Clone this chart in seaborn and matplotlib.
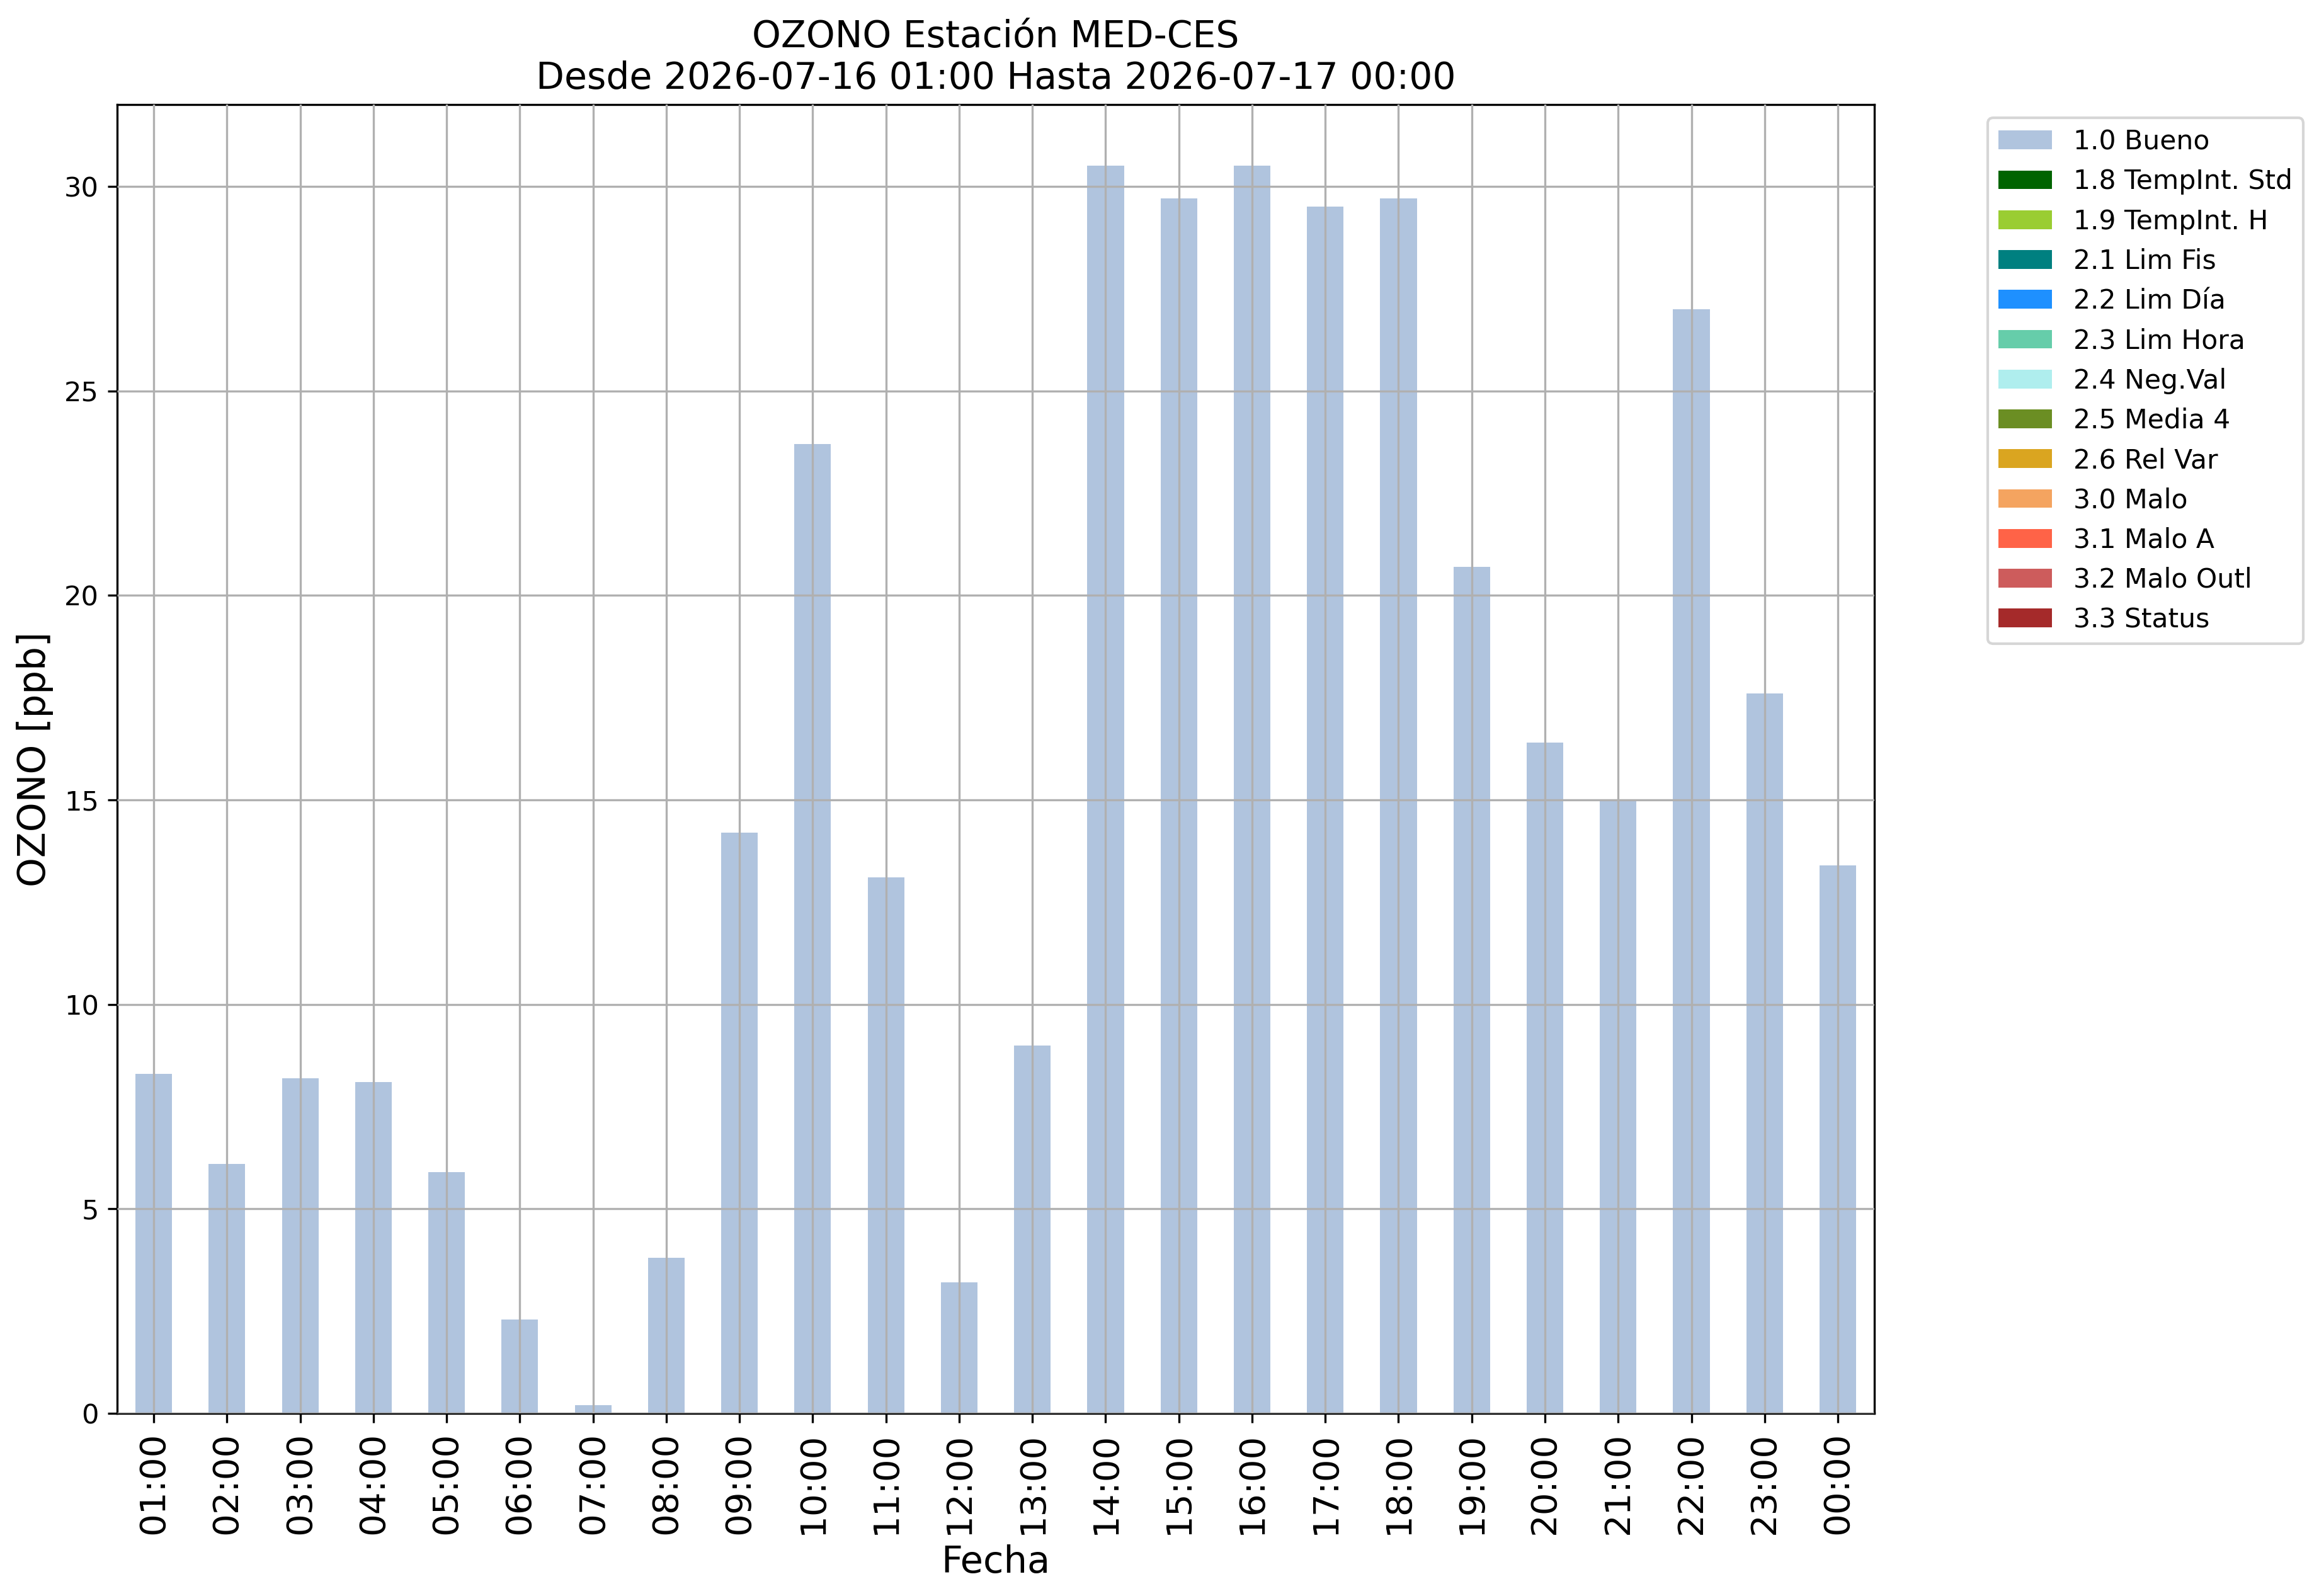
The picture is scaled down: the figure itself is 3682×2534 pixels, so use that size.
import numpy as np
import pandas as pd
import matplotlib
matplotlib.use("Agg")
import matplotlib.pyplot as plt
from matplotlib.patches import Patch
import seaborn as sns

# ---------- Data ----------
hours = ["01:00", "02:00", "03:00", "04:00", "05:00", "06:00", "07:00", "08:00",
         "09:00", "10:00", "11:00", "12:00", "13:00", "14:00", "15:00", "16:00",
         "17:00", "18:00", "19:00", "20:00", "21:00", "22:00", "23:00", "00:00"]
ozono_bueno = [8.3, 6.1, 8.2, 8.1, 5.9, 2.3, 0.2, 3.8,
               14.2, 23.7, 13.1, 3.2, 9.0, 30.5, 29.7, 30.5,
               29.5, 29.7, 20.7, 16.4, 15.0, 27.0, 17.6, 13.4]

flag_labels = ["1.0 Bueno", "1.8 TempInt. Std", "1.9 TempInt. H", "2.1 Lim Fis",
               "2.2 Lim Día", "2.3 Lim Hora", "2.4 Neg.Val", "2.5 Media 4",
               "2.6 Rel Var", "3.0 Malo", "3.1 Malo A", "3.2 Malo Outl", "3.3 Status"]
flag_colors = ["lightsteelblue", "darkgreen", "yellowgreen", "teal",
               "dodgerblue", "mediumaquamarine", "paleturquoise", "olivedrab",
               "goldenrod", "sandybrown", "tomato", "indianred", "brown"]

df = pd.DataFrame({"Fecha": hours, "OZONO": ozono_bueno})

# ---------- Plot ----------
plt.rcParams["font.family"] = ["DejaVu Sans"]
fig, ax = plt.subplots(figsize=(3682 / 300, 2534 / 300), dpi=300)
fig.subplots_adjust(left=0.0505, right=0.8083, bottom=0.1144, top=0.9345)

sns.barplot(data=df, x="Fecha", y="OZONO", order=hours, color=flag_colors[0],
            saturation=1, width=0.5, linewidth=0, ax=ax)

ax.set_xlim(-0.5, len(hours) - 0.5)
ax.set_ylim(0, 32)
ax.set_axisbelow(False)
ax.grid(True, color="#b0b0b0", linewidth=0.8)

ax.tick_params(axis="y", labelsize=10.4)
ax.tick_params(axis="x", labelsize=13.5, labelrotation=90)
ax.set_xlabel("Fecha", fontsize=14.2)
ax.set_ylabel("OZONO [ppb]", fontsize=14.3)
ax.set_title("OZONO Estación MED-CES\nDesde 2026-07-16 01:00 Hasta 2026-07-17 00:00",
             fontsize=14.0)

for s in ax.spines.values():
    s.set_color("black")
    s.set_linewidth(0.8)

handles = [Patch(facecolor=c, edgecolor="none", label=l)
           for l, c in zip(flag_labels, flag_colors)]
ax.legend(handles=handles, loc="upper left", bbox_to_anchor=(1.057, 1.0),
          fontsize=10.2)

fig.savefig("out.png", dpi=300)
